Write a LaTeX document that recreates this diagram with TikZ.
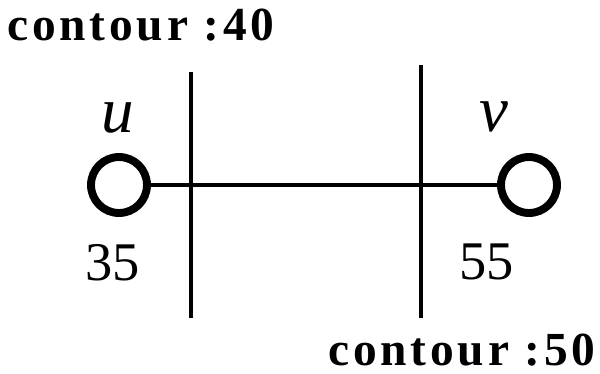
\documentclass[tikz,border=0pt]{standalone}
\usepackage{fontspec}
\setmainfont{Liberation Serif}
\newfontfamily\contourfont[LetterSpace=8]{Liberation Serif}
\begin{document}
\begin{tikzpicture}[x=0.02cm, y=-0.02cm,
	vertex/.style={circle, draw, line width=4.5pt, minimum size=1.12cm, inner sep=0pt},
	cutline/.style={line width=2.8pt},
	valtext/.style={inner sep=0pt, font=\fontsize{31}{31}\selectfont},
	nametext/.style={inner sep=0pt, font=\fontsize{37}{37}\selectfont\itshape},
	contourtext/.style={inner sep=0pt, font=\fontsize{27}{27}\selectfont\contourfont\bfseries}]
			\useasboundingbox (0,0) rectangle (600,373);
			\node (u) [vertex] at (119,185) {};
			\node (v) [vertex] at (529,185) {};
			\node (uname) [nametext] at (118,118) {u};
			\node (vname) [nametext] at (494,117) {v};
			\node (uval) [valtext] at (113,263) {35};
			\node (vval) [valtext] at (487,262) {55};
			\node (c40) [contourtext] at (141,25) {contour :40};
			\node (c50) [contourtext] at (462,350) {contour :50};
			% cut lines
			\coordinate (a1) at (191,72);
			\coordinate (a2) at (191,318);
			\coordinate (b1) at (421,65);
			\coordinate (b2) at (421,318);
			\draw[cutline] (a1) -- (a2);
			\draw[cutline] (b1) -- (b2);
			% edge
			\draw[line width=2.3pt] (u) -- (v);
		\end{tikzpicture}
\end{document}
